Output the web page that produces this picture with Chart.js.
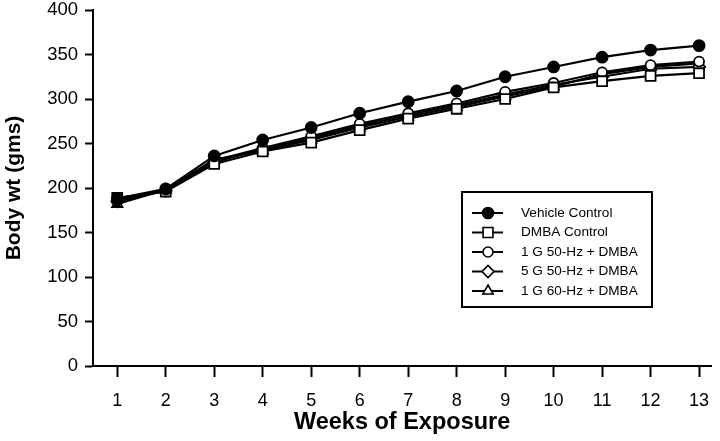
<!DOCTYPE html>
<html>
<head>
<meta charset="utf-8">
<script src="https://cdn.jsdelivr.net/npm/chart.js@4"></script>
<style>
html,body{margin:0;padding:0;background:#fff;}
#wrap{width:720px;height:441px;position:relative;}
</style>
</head>
<body>
<div id="wrap"><canvas id="c" width="720" height="441"></canvas></div>
<script>
const weeks = [1,2,3,4,5,6,7,8,9,10,11,12,13];
const yTicks = [0,50,100,150,200,250,300,350,400];
const vehicleControl = [188,199,236,254,268,284,297,309,325,336,347,355,360];
const dmbaControl    = [189,196,227,241,251,265,278,289,300,313,320,326,329];
const g1hz50Dmba     = [186,198,231,245,258,272,284,295,308,318,330,338,342];
const g5hz50Dmba     = [185,197,229,244,256,270,282,293,305,316,325,334,336];
const g1hz60Dmba     = [182,198,232,242,254,268,280,291,303,314,328,336,340];
const seriesNames = ["Vehicle Control","DMBA Control","1 G 50-Hz + DMBA","5 G 50-Hz + DMBA","1 G 60-Hz + DMBA"];

const FONT = "'Liberation Sans', Arial, Helvetica, sans-serif";

function mk(name, vals, style, filled, r){
  return {
    label: name,
    data: weeks.map((w,i)=>({x:w,y:vals[i]})),
    borderColor:'#000',
    backgroundColor: filled ? '#000' : '#fff',
    pointBackgroundColor: filled ? '#000' : '#fff',
    pointBorderColor:'#000',
    pointBorderWidth:1.8,
    borderWidth:2.2,
    pointStyle: style,
    pointRadius: r,
    pointHoverRadius: r,
    tension:0
  };
}
const datasets = [
  mk(seriesNames[0], vehicleControl, 'circle', true, 5.5),
  mk(seriesNames[1], dmbaControl, 'rect', false, 7),
  mk(seriesNames[2], g1hz50Dmba, 'circle', false, 5),
  mk(seriesNames[3], g5hz50Dmba, 'rectRot', false, 6),
  mk(seriesNames[4], g1hz60Dmba, 'triangle', false, 6)
];

const legendPlugin = {
  id:'boxLegend',
  afterDatasetsDraw(chart){
    const ctx = chart.ctx;
    const x0=462, y0=192, w=190, h=115;
    ctx.save();
    ctx.fillStyle='#fff';
    ctx.fillRect(x0,y0,w,h);
    ctx.strokeStyle='#000';
    ctx.lineWidth=2;
    ctx.strokeRect(x0,y0,w,h);
    chart.data.datasets.forEach((ds,i)=>{
      const yy = y0 + 21 + i*19.5;
      ctx.strokeStyle='#000';
      ctx.lineWidth=2;
      ctx.beginPath();
      ctx.moveTo(472,yy); ctx.lineTo(503,yy); ctx.stroke();
      ctx.fillStyle = ds.pointBackgroundColor;
      ctx.strokeStyle='#000';
      ctx.lineWidth=1.6;
      Chart.helpers.drawPoint(ctx,{pointStyle:ds.pointStyle,rotation:0,radius:ds.pointRadius,borderWidth:1.6},488,yy);
      ctx.fillStyle='#000';
      ctx.font = "13.6px " + FONT;
      ctx.textBaseline='middle';
      ctx.textAlign='left';
      ctx.fillText(ds.label, 521, yy);
    });
    ctx.restore();
  }
};

new Chart(document.getElementById('c'), {
  type:'line',
  data:{datasets},
  options:{
    responsive:false,
    animation:false,
    events:[],
    layout:{padding:{left:0,right:8,top:10,bottom:0}},
    plugins:{legend:{display:false},tooltip:{enabled:false}},
    scales:{
      x:{
        type:'linear',
        min:0.5, max:13.25,
        afterBuildTicks(s){ s.ticks = weeks.map(v=>({value:v})); },
        afterFit(s){ s.height = 75; s.paddingLeft = 0; s.paddingRight = 0; },
        border:{display:true,color:'#000',width:2},
        grid:{display:true,drawOnChartArea:false,drawTicks:true,tickLength:11,tickWidth:2,tickColor:'#000'},
        ticks:{color:'#000',font:{family:FONT,size:18},padding:13,maxRotation:0,autoSkip:false},
        title:{display:true,text:'Weeks of Exposure',color:'#000',font:{family:FONT,size:23.5,weight:'bold'},padding:{top:2,bottom:4}}
      },
      y:{
        type:'linear',
        min:0, max:400,
        afterBuildTicks(s){ s.ticks = yTicks.map(v=>({value:v})); },
        afterFit(s){ s.width = 93; s.paddingTop = 0; s.paddingBottom = 0; },
        border:{display:true,color:'#000',width:2},
        grid:{display:true,drawOnChartArea:false,drawTicks:true,tickLength:8,tickWidth:2,tickColor:'#000'},
        ticks:{color:'#000',font:{family:FONT,size:18.5},padding:7},
        title:{display:true,text:'Body wt (gms)',color:'#000',font:{family:FONT,size:21,weight:'bold'},padding:{top:2,bottom:0}}
      }
    }
  },
  plugins:[legendPlugin]
});
</script>
</body>
</html>
